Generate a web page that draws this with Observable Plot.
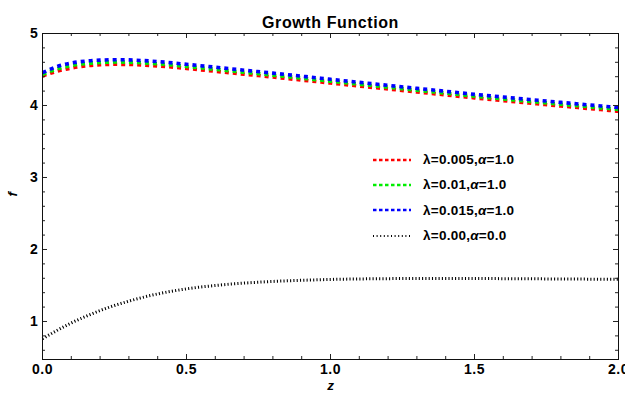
<!DOCTYPE html>
<html>
<head>
<meta charset="utf-8">
<script src="https://cdn.jsdelivr.net/npm/d3@7"></script>
<script src="https://cdn.jsdelivr.net/npm/@observablehq/plot@0.6"></script>
<style>
  html, body { margin: 0; padding: 0; background: #fff; }
  #wrap { position: relative; width: 625px; height: 399px; font-family: "Liberation Sans", Arial, sans-serif; }
  #legend { position: absolute; left: 372px; top: 147px; font-weight: bold; font-size: 13.5px; letter-spacing: 0.25px; color: #000; }
  #legend .row { display: flex; align-items: center; height: 25.3px; }
  #legend svg { width: 40px; height: 10px; margin-right: 11px; }
</style>
</head>
<body>
<div id="wrap"><div id="legend"></div></div>
<script>
const zVals  = [0,0.05,0.1,0.15,0.2,0.25,0.3,0.4,0.5,0.6,0.7,0.8,0.9,1.0,1.1,1.2,1.3,1.4,1.5,1.6,1.7,1.8,1.9,2.0];
const fRed   = [4.41,4.475,4.52,4.55,4.565,4.572,4.57,4.55,4.515,4.475,4.435,4.395,4.353,4.312,4.27,4.23,4.188,4.147,4.106,4.068,4.03,3.993,3.957,3.92];
const fGreen = [4.433,4.508,4.555,4.583,4.597,4.604,4.601,4.58,4.543,4.503,4.462,4.422,4.38,4.338,4.296,4.255,4.213,4.172,4.13,4.092,4.055,4.018,3.982,3.946];
const fBlue  = [4.455,4.54,4.59,4.617,4.63,4.636,4.633,4.61,4.572,4.532,4.49,4.45,4.407,4.364,4.322,4.28,4.238,4.197,4.155,4.117,4.08,4.043,4.007,3.972];
const fBlack = [0.76,0.875,0.98,1.07,1.152,1.222,1.283,1.383,1.453,1.5,1.533,1.556,1.572,1.584,1.591,1.595,1.597,1.598,1.597,1.595,1.593,1.59,1.588,1.585];

const seriesNames = ["λ=0.005,α=1.0","λ=0.01,α=1.0","λ=0.015,α=1.0","λ=0.00,α=0.0"];
const seriesColors = ["#ff0000","#00ee00","#0000ff","#000000"];
const seriesValues = [fRed, fGreen, fBlue, fBlack];

const xMajor = [0,0.5,1,1.5,2];
const xMinor = d3.range(0, 2.0001, 0.1).map(d => +d.toFixed(2)).filter(d => !xMajor.includes(d));
const yMajor = [1,2,3,4,5];
const yMinor = d3.range(0.6, 5, 0.2).map(d => +d.toFixed(2)).filter(d => !yMajor.includes(d));

const W = 625, H = 399, mL = 42, mR = 7, mT = 33, mB = 40;
const innerH = H - mT - mB, innerW = W - mL - mR;
const FONT = "Liberation Sans, Arial, sans-serif";

const lineMarks = seriesValues.map((vals, i) => {
  const data = zVals.map((z, j) => ({z, f: vals[j]}));
  const dotted = i === 3;
  return Plot.line(data, {
    x: "z", y: "f", stroke: seriesColors[i], curve: "monotone-x",
    strokeWidth: dotted ? 3 : 3.6,
    strokeDasharray: dotted ? "1.1,2.2" : "4,4",
    strokeLinecap: "butt"
  });
});

const tickMarks = [
  Plot.tickX(xMajor, {x: d => d, insetTop: innerH - 5, stroke: "#222"}),
  Plot.tickX(xMinor, {x: d => d, insetTop: innerH - 3, stroke: "#222"}),
  Plot.tickX(xMajor, {x: d => d, insetBottom: innerH - 5, stroke: "#222"}),
  Plot.tickX(xMinor, {x: d => d, insetBottom: innerH - 3, stroke: "#222"}),
  Plot.tickY(yMajor, {y: d => d, insetRight: innerW - 5, stroke: "#222"}),
  Plot.tickY(yMinor, {y: d => d, insetRight: innerW - 3, stroke: "#222"}),
  Plot.tickY(yMajor, {y: d => d, insetLeft: innerW - 5, stroke: "#222"}),
  Plot.tickY(yMinor, {y: d => d, insetLeft: innerW - 3, stroke: "#222"})
];

const chart = Plot.plot({
  width: W, height: H,
  marginLeft: mL, marginRight: mR, marginTop: mT, marginBottom: mB,
  style: {fontFamily: FONT, background: "#fff", overflow: "visible"},
  x: {domain: [0, 2]},
  y: {domain: [0.472, 5]},
  marks: [
    ...lineMarks,
    ...tickMarks,
    Plot.frame({stroke: "#111", strokeWidth: 1}),
    Plot.axisX(xMajor, {tickSize: 0, tickPadding: 5, tickFormat: d3.format(".1f"), fontSize: 14, fontWeight: "bold", label: null}),
    Plot.axisY(yMajor, {tickSize: 0, tickPadding: 4, tickFormat: d => String(d), fontSize: 14, fontWeight: "bold", label: null}),
    Plot.text(["Growth Function"], {frameAnchor: "top", dy: -17, fontSize: 16, fontWeight: "bold"}),
    Plot.text(["z"], {frameAnchor: "bottom", dy: 30, fontSize: 13.5, fontWeight: "bold", fontStyle: "italic"}),
    Plot.text(["f"], {frameAnchor: "left", dx: -30, rotate: -90, fontSize: 13.5, fontWeight: "bold", fontStyle: "italic"})
  ]
});
d3.select(chart).selectAll("text").each(function() {
  const t = this.textContent;
  if (t === "Growth Function") this.style.letterSpacing = "0.6px";
  else if (/^[0-9.]+$/.test(t)) this.style.letterSpacing = "0.6px";
});
document.getElementById("wrap").prepend(chart);

const legend = document.getElementById("legend");
seriesNames.forEach((name, i) => {
  const row = document.createElement("div");
  row.className = "row";
  const dotted = i === 3;
  const [lam, al] = name.split(",");
  const alParts = al.split("=");
  row.innerHTML =
    `<svg viewBox="0 0 40 10"><line x1="1" x2="39" y1="5" y2="5" stroke="${seriesColors[i]}" stroke-width="${dotted ? 2 : 2.6}" stroke-dasharray="${dotted ? '1,2.6' : '3.5,2.5'}"/></svg>` +
    `<span>${lam},<i>α</i>=${alParts[1]}</span>`;
  legend.appendChild(row);
});
</script>
</body>
</html>
